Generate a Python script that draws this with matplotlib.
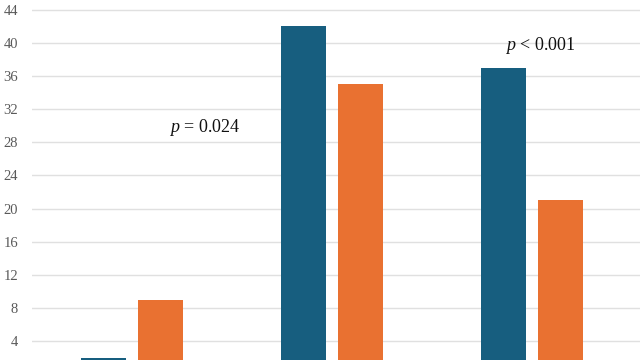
import matplotlib.pyplot as plt
import numpy as np

# Данные
groups = ['A', 'B', 'C']
blue_vals = [2, 42, 37]
orange_vals = [9, 35, 21]
yticks = [4, 8, 12, 16, 20, 24, 28, 32, 36, 40, 44]
p_labels = ['$p$ = 0.024', '$p$ < 0.001']
p_pos = [(0.365, 29.8), (2.04, 39.7)]

plt.rcParams['font.family'] = ['Liberation Serif', 'DejaVu Serif']
plt.rcParams['mathtext.fontset'] = 'custom'
plt.rcParams['mathtext.it'] = 'Liberation Serif:italic'

fig = plt.figure(figsize=(6.4, 3.6), dpi=100)
ax = fig.add_axes([0.05, 0.0, 0.95, 1.0])

x = np.arange(len(groups))
w = 0.225
ax.bar(x - 0.1425, blue_vals, width=w, color='#175E7F', zorder=3)
ax.bar(x + 0.1425, orange_vals, width=w, color='#E97131', zorder=3)

ax.set_xlim(-0.5, 2.54)
ax.set_ylim(1.7, 45.2)
ax.set_yticks(yticks)
ax.set_xticks([])
ax.tick_params(axis='y', length=0, pad=10, labelsize=10.5, labelcolor='#595959')
ax.grid(axis='y', color='#e0e0e0', linewidth=1, zorder=0)
for s in ax.spines.values():
    s.set_visible(False)

for (px, py), lab in zip(p_pos, p_labels):
    ax.text(px, py, lab, ha='center', va='center', fontsize=13, color='#111111', zorder=4)

fig.savefig('out.png', dpi=100)
